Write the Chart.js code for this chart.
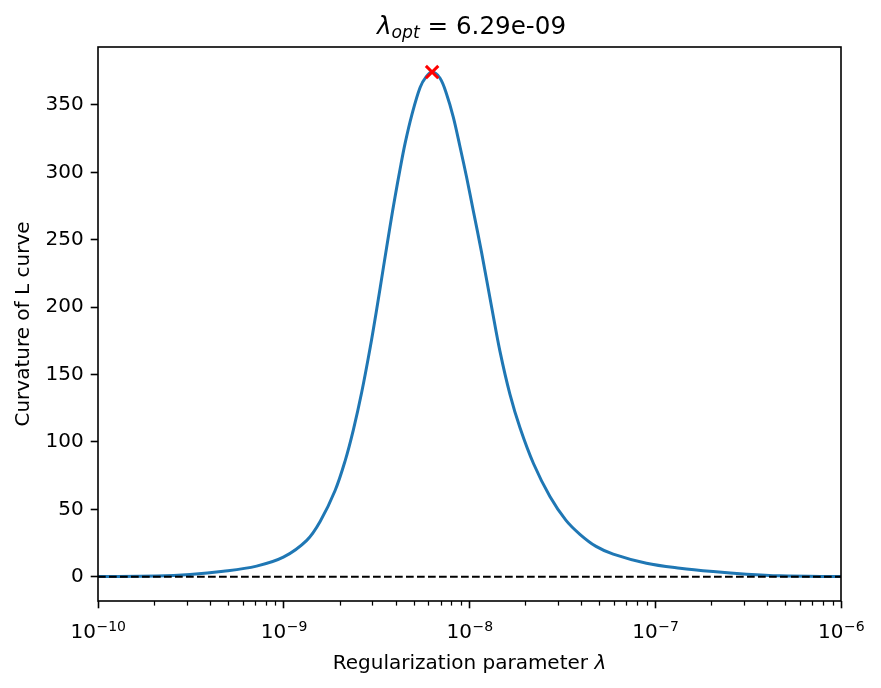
<!DOCTYPE html>
<html>
<head>
<meta charset="utf-8">
<script src="https://cdn.jsdelivr.net/npm/chart.js@4"></script>
<style>
  body { margin: 0; background: #ffffff; }
  canvas { display: block; }
</style>
</head>
<body>
<canvas id="lcurve" width="881" height="688"></canvas>
<script>
// values
const lambdaValues = [
    1.0e-10, 2.07e-10, 3.13e-10, 4.73e-10, 7.14e-10, 9.95e-10, 1.33e-9, 1.57e-9,
    1.89e-9, 2.14e-9, 2.37e-9, 2.63e-9, 2.92e-9, 3.17e-9, 3.44e-9, 3.73e-9,
    3.97e-9, 4.23e-9, 4.50e-9, 4.89e-9, 5.42e-9, 5.85e-9, 6.29e-9, 6.93e-9,
    7.53e-9, 8.18e-9, 8.89e-9, 9.66e-9, 1.05e-8, 1.16e-8, 1.32e-8, 1.46e-8,
    1.65e-8, 1.87e-8, 2.21e-8, 2.71e-8, 3.30e-8, 3.93e-8, 4.80e-8, 5.94e-8,
    8.97e-8, 1.36e-7, 2.05e-7, 3.10e-7, 4.70e-7, 1.0e-6
];
const curvatureValues = [
    0.2, 0.5, 1.6, 4.0, 7.9, 14.5, 27, 41,
    64, 86, 109, 137, 170, 199, 229.5, 259.5,
    281.5, 302.5, 321.5, 342.5, 363, 371, 374.4, 370,
    358, 341, 319, 296, 271, 241, 199, 167,
    135.5, 110.5, 84, 59.5, 42, 31.5, 22.5, 16.8,
    10, 6.3, 3.8, 1.9, 0.7, 0.1
];
const zeroLine = [0, 0];
const zeroLineLambda = [1e-10, 1e-6];
const optLambda = 6.29e-9;
const optCurvature = 374.4;

const xTickValues = [1e-10, 1e-9, 1e-8, 1e-7, 1e-6];
const xTickBase = '10';
const xTickExponents = ['\u221210', '\u22129', '\u22128', '\u22127', '\u22126'];
const yTickValues = [0, 50, 100, 150, 200, 250, 300, 350];
const yMin = -18.0;
const yMax = 393.0;

const FONT = '"DejaVu Sans", sans-serif';
const tickFontSize = 20;
const titleFontSize = 24.6;

function toPoints(xs, ys) {
    return xs.map((x, i) => ({ x: x, y: ys[i] }));
}

// frame, minor ticks, x tick labels with exponents, title and axis titles
const decorations = {
    id: 'decorations',
    afterDraw(chart) {
        const ctx = chart.ctx;
        const area = chart.chartArea;
        const xScale = chart.scales.x;

        ctx.save();
        ctx.strokeStyle = '#000000';

        // minor ticks on the log axis
        ctx.lineWidth = 1.25;
        for (let d = -10; d < -6; d++) {
            for (let m = 2; m <= 9; m++) {
                const px = Math.round(xScale.getPixelForValue(m * Math.pow(10, d))) + 0.5;
                ctx.beginPath();
                ctx.moveTo(px, area.bottom);
                ctx.lineTo(px, area.bottom + 4.6);
                ctx.stroke();
            }
        }

        // spines
        ctx.lineWidth = 1.6;
        ctx.strokeRect(area.left, area.top, area.right - area.left, area.bottom - area.top);

        ctx.fillStyle = '#000000';
        ctx.textBaseline = 'alphabetic';
        ctx.textAlign = 'left';

        // x tick labels 10^n
        const baseFont = tickFontSize + 'px ' + FONT;
        const expFont = (tickFontSize * 0.7) + 'px ' + FONT;
        xScale.ticks.forEach(t => {
            const i = xTickValues.indexOf(t.value);
            if (i < 0) return;
            ctx.font = baseFont;
            const wb = ctx.measureText(xTickBase).width;
            ctx.font = expFont;
            const we = ctx.measureText(xTickExponents[i]).width;
            const cx = xScale.getPixelForValue(t.value);
            const lx = cx - (wb + we) / 2;
            ctx.font = baseFont;
            ctx.fillText(xTickBase, lx, 637.5);
            ctx.font = expFont;
            ctx.fillText(xTickExponents[i], lx + wb + 0.5, 630.5);
        });

        // title: lambda_opt = 6.29e-09
        const parts = [
            { text: '\u03bb', font: 'italic ' + titleFontSize + 'px ' + FONT, dy: 0 },
            { text: 'opt', font: 'italic ' + (titleFontSize * 0.7) + 'px ' + FONT, dy: 4.5 },
            { text: ' = ', font: titleFontSize + 'px ' + FONT, dy: 0 },
            { text: '6.29e-09', font: titleFontSize + 'px ' + FONT, dy: 0 }
        ];
        let total = 0;
        parts.forEach(p => { ctx.font = p.font; p.w = ctx.measureText(p.text).width; total += p.w; });
        let tx = (area.left + area.right) / 2 - total / 2 + 2;
        const titleBase = 33.5;
        parts.forEach(p => {
            ctx.font = p.font;
            ctx.fillText(p.text, tx, titleBase + p.dy);
            tx += p.w;
        });

        // x axis title
        ctx.font = baseFont;
        const xt1 = 'Regularization parameter ';
        const w1 = ctx.measureText(xt1).width;
        ctx.font = 'italic ' + baseFont;
        const w2 = ctx.measureText('\u03bb').width;
        const lx = (area.left + area.right) / 2 - (w1 + w2) / 2;
        const xBase = 668.5;
        ctx.font = baseFont;
        ctx.fillText(xt1, lx, xBase);
        ctx.font = 'italic ' + baseFont;
        ctx.fillText('\u03bb', lx + w1, xBase);

        // y axis title
        ctx.font = baseFont;
        ctx.translate(29, (area.top + area.bottom) / 2);
        ctx.rotate(-Math.PI / 2);
        ctx.textAlign = 'center';
        ctx.fillText('Curvature of L curve', 0, 0);
        ctx.restore();
    }
};

const ctx = document.getElementById('lcurve').getContext('2d');
new Chart(ctx, {
    type: 'line',
    data: {
        datasets: [
            {
                type: 'scatter',
                data: [{ x: optLambda, y: optCurvature }],
                pointStyle: 'crossRot',
                pointRadius: 8.8,
                pointBorderWidth: 3,
                pointBorderColor: '#ff0000',
                pointBackgroundColor: '#ff0000',
                order: 0
            },
            {
                data: toPoints(zeroLineLambda, zeroLine),
                borderColor: '#000000',
                borderWidth: 2,
                borderDash: [7.7, 3.3],
                pointRadius: 0,
                fill: false,
                order: 1
            },
            {
                data: toPoints(lambdaValues, curvatureValues),
                borderColor: '#1f77b4',
                borderWidth: 3,
                pointRadius: 0,
                fill: false,
                tension: 0.35,
                order: 2
            }
        ]
    },
    options: {
        responsive: false,
        animation: false,
        devicePixelRatio: 1,
        layout: { padding: { left: 0, right: 40, top: 47, bottom: 0 } },
        plugins: {
            legend: { display: false },
            tooltip: { enabled: false },
            title: { display: false }
        },
        scales: {
            x: {
                type: 'logarithmic',
                min: 1e-10,
                max: 1e-6,
                afterBuildTicks: scale => {
                    scale.ticks = xTickValues.map(v => ({ value: v, major: true }));
                },
                afterFit: scale => { scale.height = 87; },
                grid: {
                    drawOnChartArea: false,
                    drawTicks: true,
                    tickLength: 7.3,
                    tickWidth: 1.6,
                    tickColor: '#000000'
                },
                border: { display: false },
                ticks: {
                    display: false,
                    autoSkip: false,
                    maxRotation: 0
                }
            },
            y: {
                type: 'linear',
                min: yMin,
                max: yMax,
                afterBuildTicks: scale => {
                    scale.ticks = yTickValues.map(v => ({ value: v }));
                },
                afterFit: scale => { scale.width = 98; },
                grid: {
                    drawOnChartArea: false,
                    drawTicks: true,
                    tickLength: 7.3,
                    tickWidth: 1.6,
                    tickColor: '#000000'
                },
                border: { display: false },
                ticks: {
                    padding: 7,
                    color: '#000000',
                    font: { family: FONT, size: tickFontSize }
                }
            }
        }
    },
    plugins: [decorations]
});
</script>
</body>
</html>
